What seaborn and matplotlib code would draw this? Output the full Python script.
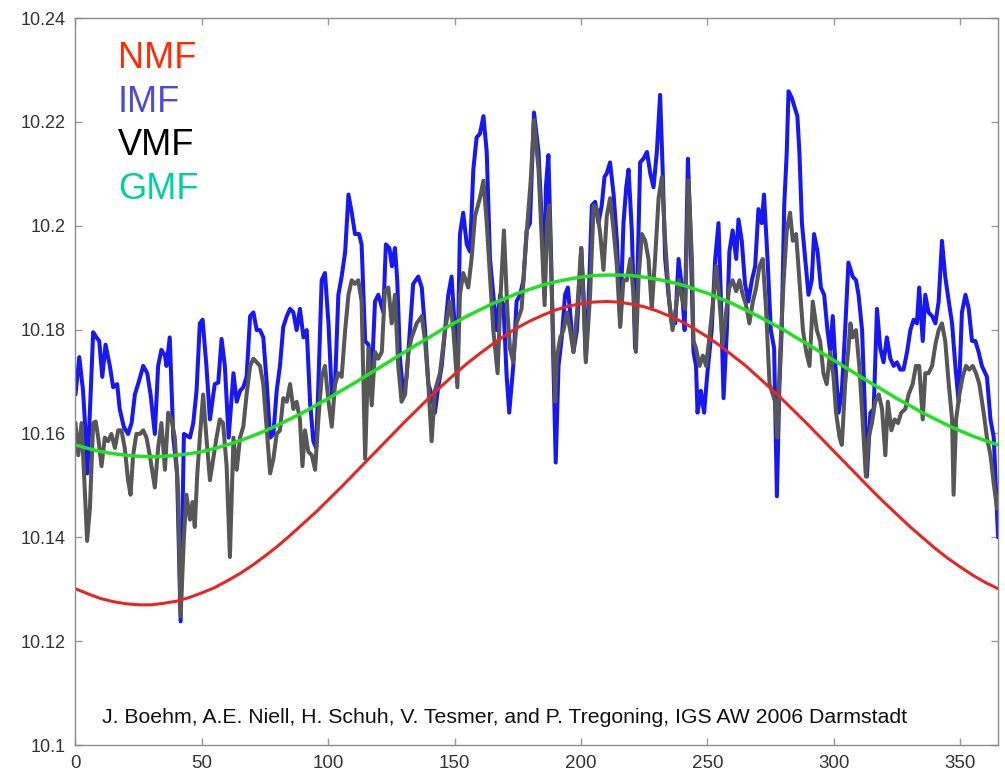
import matplotlib
matplotlib.use("Agg")
import matplotlib.pyplot as plt
import seaborn as sns
from matplotlib.ticker import FuncFormatter

# --- data (day of year, mapping function value) ---
# smooth curves, read every 5 days
smooth_day = list(range(0, 365, 5)) + [365]
nmf_val = [10.1301, 10.1291, 10.1282, 10.1276, 10.1272, 10.1270, 10.1270, 10.1273,
           10.1277, 10.1284, 10.1293, 10.1303, 10.1316, 10.1330, 10.1346, 10.1364,
           10.1383, 10.1404, 10.1426, 10.1448, 10.1472, 10.1496, 10.1521, 10.1546,
           10.1571, 10.1596, 10.1621, 10.1645, 10.1669, 10.1692, 10.1714, 10.1735,
           10.1754, 10.1772, 10.1789, 10.1804, 10.1817, 10.1828, 10.1838, 10.1845,
           10.1850, 10.1853, 10.1854, 10.1853, 10.1849, 10.1844, 10.1836, 10.1826,
           10.1815, 10.1801, 10.1786, 10.1769, 10.1750, 10.1731, 10.1709, 10.1687,
           10.1664, 10.1640, 10.1616, 10.1591, 10.1566, 10.1541, 10.1516, 10.1491,
           10.1467, 10.1444, 10.1421, 10.1400, 10.1379, 10.1360, 10.1343, 10.1327,
           10.1313, 10.1301]
gmf_val = [10.1578, 10.1571, 10.1565, 10.1561, 10.1558, 10.1556, 10.1555, 10.1556,
           10.1558, 10.1561, 10.1565, 10.1571, 10.1578, 10.1586, 10.1595, 10.1605,
           10.1616, 10.1628, 10.1640, 10.1654, 10.1667, 10.1682, 10.1696, 10.1711,
           10.1726, 10.1741, 10.1756, 10.1771, 10.1785, 10.1800, 10.1813, 10.1826,
           10.1838, 10.1850, 10.1860, 10.1870, 10.1878, 10.1886, 10.1892, 10.1897,
           10.1901, 10.1904, 10.1905, 10.1905, 10.1904, 10.1901, 10.1897, 10.1892,
           10.1886, 10.1878, 10.1870, 10.1860, 10.1850, 10.1838, 10.1826, 10.1813,
           10.1800, 10.1785, 10.1771, 10.1756, 10.1741, 10.1726, 10.1711, 10.1696,
           10.1682, 10.1667, 10.1654, 10.1640, 10.1628, 10.1616, 10.1605, 10.1595,
           10.1586, 10.1578]

imf_day = [0, 1.5, 3.0, 4.1, 4.7, 7.0, 8.3, 9.4, 10.6, 11.9, 13.6, 14.9, 16.5, 17.5,
           19.1, 20.8, 22.2, 23.5, 25.2, 26.8, 28.4, 29.7, 31.4, 32.7, 34.0, 35.4,
           36.0, 37.3, 38.7, 40.2, 41.6, 42.9, 45.3, 46.6, 47.9, 49.2, 50.3, 51.8,
           53.2, 55.1, 56.5, 57.8, 59.1, 60.6, 62.5, 63.8, 65.1, 66.4, 67.7, 69.1,
           70.4, 71.7, 73.0, 74.3, 75.7, 77.0, 78.3, 79.6, 80.9, 82.2, 83.6, 84.9,
           86.2, 87.5, 88.8, 90.2, 91.5, 92.8, 94.1, 95.2, 96.1, 97.4, 98.7, 100.1,
           101.4, 102.7, 104.0, 105.3, 106.7, 108.0, 109.3, 110.6, 112.2, 113.2,
           114.6, 115.9, 117.2, 118.5, 119.8, 121.8, 122.8, 124.2, 125.2, 126.4,
           127.3, 128.4, 129.7, 131.0, 132.3, 133.6, 135.6, 137.0, 138.3, 139.6,
           140.9, 142.2, 143.5, 144.9, 146.2, 147.5, 148.8, 150.1, 151.1, 152.1,
           153.4, 154.8, 156.1, 157.4, 158.7, 160.0, 161.4, 162.7, 164.0, 165.3,
           166.6, 168.0, 169.3, 170.6, 171.6, 173.2, 174.5, 175.9, 177.2, 178.5,
           179.8, 181.4, 183.2, 184.5, 185.6, 186.1, 187.1, 188.2, 189.1, 190.0,
           191.1, 192.4, 193.7, 194.8, 195.7, 197.0, 198.4, 200.1, 201.0, 201.9,
           203.0, 204.3, 205.6, 206.9, 208.2, 209.3, 210.2, 211.5, 212.9, 214.2,
           215.5, 216.8, 217.9, 218.8, 220.1, 221.4, 222.5, 223.4, 224.7, 226.1,
           227.4, 228.7, 230.0, 231.3, 232.3, 233.3, 234.6, 235.9, 237.3, 238.6,
           239.9, 241.0, 242.3, 243.2, 244.5, 245.5, 246.1, 247.4, 248.7, 250.0,
           251.7, 253.1, 254.4, 255.3, 256.4, 257.7, 258.7, 260.0, 261.4, 262.3,
           263.6, 264.9, 266.2, 267.6, 268.9, 270.2, 271.5, 272.4, 273.8, 275.1,
           276.4, 277.5, 278.5, 279.4, 280.4, 281.4, 282.1, 283.4, 284.7, 285.6,
           286.4, 287.4, 288.7, 290.0, 291.3, 292.2, 293.6, 294.9, 296.2, 297.5,
           298.6, 299.6, 300.7, 301.9, 303.2, 304.5, 305.8, 307.5, 308.8, 309.8,
           311.2, 312.2, 313.1, 314.5, 315.8, 317.1, 318.4, 319.7, 321.0, 322.4,
           323.7, 325.0, 326.3, 327.6, 329.0, 330.3, 331.6, 332.9, 333.8, 335.2,
           336.2, 337.5, 338.9, 340.2, 341.5, 342.8, 344.1, 345.5, 346.8, 348.1,
           349.4, 350.7, 352.1, 353.4, 354.7, 356.0, 357.3, 358.6, 360.6, 362.0,
           363.3, 363.9, 365.0]
imf_val = [10.1675, 10.1747, 10.1682, 10.1592, 10.1523, 10.1795, 10.1785, 10.1778,
           10.1709, 10.1771, 10.1730, 10.1689, 10.1695, 10.1647, 10.1613, 10.1599,
           10.1620, 10.1675, 10.1702, 10.1730, 10.1716, 10.1675, 10.1599, 10.1730,
           10.1761, 10.1750, 10.1730, 10.1785, 10.1592, 10.1523, 10.1238, 10.1599,
           10.1592, 10.1620, 10.1682, 10.1812, 10.1819, 10.1730, 10.1627, 10.1695,
           10.1698, 10.1782, 10.1730, 10.1592, 10.1716, 10.1661, 10.1682, 10.1689,
           10.1709, 10.1826, 10.1833, 10.1799, 10.1799, 10.1785, 10.1695, 10.1592,
           10.1599, 10.1682, 10.1730, 10.1805, 10.1826, 10.1840, 10.1833, 10.1799,
           10.1840, 10.1785, 10.1799, 10.1661, 10.1585, 10.1572, 10.1695, 10.1895,
           10.1909, 10.1812, 10.1675, 10.1695, 10.1867, 10.1902, 10.1950, 10.2060,
           10.2025, 10.1984, 10.1984, 10.1964, 10.1778, 10.1771, 10.1709, 10.1854,
           10.1867, 10.1833, 10.1964, 10.1957, 10.1922, 10.1957, 10.1895, 10.1744,
           10.1675, 10.1709, 10.1799, 10.1888, 10.1902, 10.1881, 10.1799, 10.1695,
           10.1675, 10.1640, 10.1689, 10.1730, 10.1799, 10.1867, 10.1902, 10.1799,
           10.1730, 10.1984, 10.2025, 10.1964, 10.1950, 10.2108, 10.2170, 10.2177,
           10.2211, 10.2142, 10.1936, 10.1867, 10.1799, 10.1867, 10.1847, 10.1709,
           10.1640, 10.1730, 10.1854, 10.1867, 10.1895, 10.1991, 10.2005, 10.2218,
           10.2142, 10.2005, 10.1867, 10.2074, 10.2136, 10.1936, 10.1730, 10.1544,
           10.1730, 10.1785, 10.1867, 10.1881, 10.1833, 10.1757, 10.1799, 10.1957,
           10.1867, 10.1744, 10.1854, 10.2039, 10.2046, 10.2005, 10.2039, 10.2094,
           10.2101, 10.2122, 10.2060, 10.1971, 10.1812, 10.2005, 10.2074, 10.2108,
           10.1991, 10.1764, 10.1936, 10.2122, 10.2129, 10.2142, 10.2101, 10.2074,
           10.2142, 10.2252, 10.2108, 10.1936, 10.1867, 10.1812, 10.1812, 10.1936,
           10.1881, 10.1799, 10.2129, 10.2005, 10.1757, 10.1730, 10.1640, 10.1682,
           10.1640, 10.1716, 10.1799, 10.1936, 10.2005, 10.1867, 10.1668, 10.1799,
           10.1950, 10.1991, 10.1936, 10.2012, 10.1971, 10.1888, 10.1854, 10.1895,
           10.1922, 10.2032, 10.2005, 10.2060, 10.1936, 10.1799, 10.1764, 10.1479,
           10.1695, 10.1799, 10.2039, 10.2142, 10.2259, 10.2246, 10.2225, 10.2211,
           10.2142, 10.2005, 10.1936, 10.1867, 10.1895, 10.1984, 10.1950, 10.1881,
           10.1867, 10.1799, 10.1757, 10.1826, 10.1730, 10.1640, 10.1682, 10.1799,
           10.1929, 10.1902, 10.1895, 10.1867, 10.1799, 10.1661, 10.1517, 10.1640,
           10.1647, 10.1840, 10.1764, 10.1737, 10.1785, 10.1744, 10.1730, 10.1737,
           10.1723, 10.1723, 10.1757, 10.1799, 10.1819, 10.1812, 10.1881, 10.1778,
           10.1867, 10.1833, 10.1826, 10.1812, 10.1854, 10.1971, 10.1902, 10.1854,
           10.1812, 10.1730, 10.1661, 10.1833, 10.1867, 10.1840, 10.1778, 10.1778,
           10.1757, 10.1730, 10.1709, 10.1627, 10.1592, 10.1523, 10.1400]

vmf_day = [0, 1.1, 2.4, 3.7, 4.6, 5.7, 7.0, 8.0, 9.0, 10.3, 11.6, 12.9, 14.2, 15.6,
           16.9, 18.2, 19.5, 20.8, 21.8, 22.8, 24.1, 25.5, 26.8, 28.1, 29.4, 31.4,
           32.7, 34.0, 35.4, 36.7, 38.0, 39.3, 40.6, 41.6, 42.9, 43.9, 45.3, 46.3,
           47.2, 48.2, 49.2, 50.5, 51.8, 53.2, 54.5, 55.8, 57.1, 58.4, 59.8, 61.1,
           62.5, 63.8, 65.1, 66.4, 67.7, 69.1, 70.4, 71.7, 73.0, 74.3, 75.7, 77.0,
           78.3, 79.6, 80.9, 82.2, 83.6, 84.9, 86.2, 87.5, 88.8, 89.8, 90.8, 92.1,
           93.5, 94.8, 96.1, 97.4, 98.7, 100.1, 101.4, 102.7, 104.0, 105.3, 106.7,
           108.0, 109.3, 110.6, 111.9, 113.2, 114.6, 115.9, 117.2, 118.5, 119.8,
           121.2, 122.4, 123.8, 125.1, 126.4, 127.7, 129.0, 130.4, 131.7, 133.0,
           135.0, 137.0, 138.3, 139.6, 140.9, 142.2, 144.2, 146.2, 148.2, 149.5,
           151.1, 152.1, 153.4, 155.4, 156.7, 158.1, 160.0, 161.4, 162.7, 164.0,
           165.3, 166.4, 167.0, 168.2, 169.5, 170.9, 171.9, 173.2, 174.5, 176.5,
           177.8, 178.8, 180.1, 181.4, 183.2, 184.5, 185.6, 186.6, 187.4, 188.5,
           189.8, 190.4, 191.8, 193.1, 194.4, 195.7, 197.0, 198.4, 200.1, 201.0,
           201.9, 203.6, 205.0, 206.3, 207.6, 208.9, 210.2, 211.5, 212.9, 214.2,
           215.5, 216.8, 218.1, 219.5, 220.8, 221.7, 222.8, 224.1, 225.4, 226.7,
           228.0, 229.3, 230.7, 232.0, 233.3, 234.9, 236.2, 237.5, 238.8, 240.2,
           241.2, 242.5, 243.9, 244.5, 245.5, 246.9, 248.2, 249.5, 250.8, 252.1,
           253.5, 254.8, 256.1, 257.4, 258.7, 260.0, 261.4, 262.7, 264.0, 265.3,
           266.6, 268.0, 269.3, 270.6, 271.9, 273.2, 274.6, 275.9, 276.8, 277.7,
           278.8, 280.1, 281.4, 282.7, 283.8, 285.1, 286.4, 287.8, 289.1, 290.4,
           291.7, 293.3, 294.6, 295.9, 297.2, 298.6, 299.9, 300.9, 302.3, 303.2,
           304.5, 305.8, 306.6, 307.5, 308.8, 310.1, 311.4, 312.7, 313.8, 315.1,
           316.4, 317.8, 319.1, 320.4, 321.4, 322.8, 324.1, 325.4, 326.7, 328.3,
           329.6, 331.2, 332.5, 333.8, 335.2, 336.2, 337.5, 338.9, 340.2, 341.5,
           342.8, 344.1, 345.5, 346.8, 347.4, 348.4, 349.7, 351.0, 352.3, 353.6,
           355.0, 356.3, 357.6, 359.3, 360.6, 362.0, 363.3, 364.6, 365.0]
vmf_val = [10.1620, 10.1558, 10.1620, 10.1489, 10.1393, 10.1455, 10.1620, 10.1623,
           10.1592, 10.1537, 10.1592, 10.1585, 10.1599, 10.1572, 10.1606, 10.1606,
           10.1572, 10.1510, 10.1482, 10.1558, 10.1599, 10.1599, 10.1606, 10.1592,
           10.1558, 10.1496, 10.1572, 10.1620, 10.1530, 10.1640, 10.1627, 10.1592,
           10.1489, 10.1248, 10.1400, 10.1482, 10.1434, 10.1468, 10.1420, 10.1523,
           10.1592, 10.1675, 10.1592, 10.1510, 10.1551, 10.1592, 10.1627, 10.1620,
           10.1537, 10.1362, 10.1592, 10.1530, 10.1592, 10.1613, 10.1675, 10.1730,
           10.1744, 10.1737, 10.1730, 10.1695, 10.1606, 10.1523, 10.1551, 10.1599,
           10.1606, 10.1668, 10.1661, 10.1695, 10.1647, 10.1661, 10.1627, 10.1537,
           10.1606, 10.1565, 10.1558, 10.1530, 10.1627, 10.1709, 10.1730, 10.1661,
           10.1613, 10.1695, 10.1716, 10.1709, 10.1799, 10.1867, 10.1895, 10.1888,
           10.1895, 10.1854, 10.1551, 10.1764, 10.1654, 10.1757, 10.1744, 10.1757,
           10.1874, 10.1881, 10.1812, 10.1867, 10.1730, 10.1661, 10.1675, 10.1757,
           10.1785, 10.1812, 10.1826, 10.1778, 10.1695, 10.1585, 10.1682, 10.1716,
           10.1799, 10.1854, 10.1799, 10.1689, 10.1867, 10.1909, 10.1881, 10.1936,
           10.2019, 10.2053, 10.2087, 10.2005, 10.1902, 10.1799, 10.1744, 10.1716,
           10.1867, 10.1991, 10.1833, 10.1764, 10.1737, 10.1812, 10.1840, 10.1936,
           10.2005, 10.2087, 10.2204, 10.2108, 10.1971, 10.1847, 10.2005, 10.2039,
           10.1867, 10.1661, 10.1744, 10.1785, 10.1799, 10.1833, 10.1799, 10.1757,
           10.1833, 10.1957, 10.1854, 10.1737, 10.1867, 10.2039, 10.2032, 10.1984,
           10.1915, 10.2019, 10.2053, 10.1991, 10.1922, 10.1805, 10.1895, 10.1895,
           10.1936, 10.1867, 10.1757, 10.1902, 10.1984, 10.1971, 10.1936, 10.1840,
           10.1936, 10.2053, 10.2094, 10.1971, 10.1854, 10.1799, 10.1840, 10.1895,
           10.1854, 10.1840, 10.2087, 10.1936, 10.1778, 10.1764, 10.1730, 10.1750,
           10.1730, 10.1785, 10.1847, 10.1922, 10.1854, 10.1771, 10.1833, 10.1881,
           10.1895, 10.1874, 10.1895, 10.1867, 10.1847, 10.1812, 10.1854, 10.1881,
           10.1922, 10.1936, 10.1840, 10.1695, 10.1675, 10.1661, 10.1592, 10.1757,
           10.1888, 10.1991, 10.2025, 10.1971, 10.1984, 10.1895, 10.1799, 10.1757,
           10.1730, 10.1854, 10.1799, 10.1778, 10.1716, 10.1695, 10.1757, 10.1709,
           10.1640, 10.1592, 10.1578, 10.1695, 10.1764, 10.1812, 10.1785, 10.1799,
           10.1730, 10.1627, 10.1517, 10.1592, 10.1620, 10.1661, 10.1675, 10.1647,
           10.1558, 10.1661, 10.1606, 10.1627, 10.1620, 10.1640, 10.1647, 10.1675,
           10.1695, 10.1730, 10.1730, 10.1627, 10.1716, 10.1716, 10.1730, 10.1771,
           10.1799, 10.1812, 10.1778, 10.1695, 10.1627, 10.1482, 10.1627, 10.1675,
           10.1709, 10.1730, 10.1723, 10.1730, 10.1716, 10.1695, 10.1640, 10.1592,
           10.1558, 10.1503, 10.1455, 10.1480]

legend_names = ["NMF", "IMF", "VMF", "GMF"]
legend_colors = ["#ff2a00", "#4b4bd6", "#000000", "#00cf9f"]
credit = "J. Boehm, A.E. Niell, H. Schuh, V. Tesmer, and P. Tregoning, IGS AW 2006 Darmstadt"
x_ticks = [0, 50, 100, 150, 200, 250, 300, 350]
y_ticks = [10.1, 10.12, 10.14, 10.16, 10.18, 10.2, 10.22, 10.24]

# --- figure ---
sns.set_style("ticks")
plt.rcParams['font.family'] = ['Liberation Sans', 'DejaVu Sans']

fig = plt.figure(figsize=(10.05, 7.73), dpi=100)
ax = fig.add_axes([0.0751, 0.0362, 0.918, 0.9405])

sns.lineplot(x=imf_day, y=imf_val, color="#1818f2", linewidth=2.9, estimator=None, ax=ax)
sns.lineplot(x=vmf_day, y=vmf_val, color="#575757", linewidth=2.9, estimator=None, ax=ax)
sns.lineplot(x=smooth_day, y=nmf_val, color="#e62626", linewidth=2.2, estimator=None, ax=ax)
sns.lineplot(x=smooth_day, y=gmf_val, color="#22e022", linewidth=2.5, estimator=None, ax=ax)

ax.set_xlim(0, 365)
ax.set_ylim(10.1, 10.24)
ax.set_xticks(x_ticks)
ax.set_yticks(y_ticks)
ax.yaxis.set_major_formatter(FuncFormatter(lambda v, p: f"{v:g}"))
ax.tick_params(direction="in", top=True, right=True, length=5, width=1,
               color="#999999", labelsize=13, labelcolor="#333333")
ax.tick_params(axis="x", pad=7, labelsize=13.5)
ax.tick_params(axis="y", pad=7)
for s in ax.spines.values():
    s.set_color("#8c8c8c")
    s.set_linewidth(1.0)
ax.set_xlabel("")
ax.set_ylabel("")

# coloured names instead of a legend box
for i, (name, col) in enumerate(zip(legend_names, legend_colors)):
    ax.text(0.046, 0.931 - i * 0.060, name, color=col, fontsize=26,
            transform=ax.transAxes, va="baseline", ha="left")

ax.text(0.0285, 0.030, credit, fontsize=15.3, color="#111111",
        transform=ax.transAxes, va="baseline", ha="left")

fig.savefig("out.png", dpi=100)
